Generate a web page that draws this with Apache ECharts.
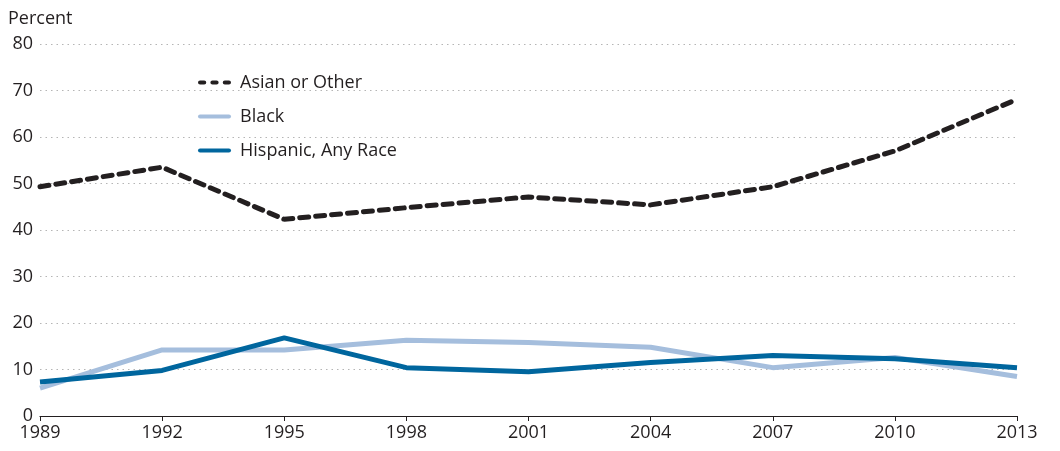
<!DOCTYPE html>
<html><head><meta charset="utf-8">
<script src="https://cdn.jsdelivr.net/npm/echarts@6/dist/echarts.min.js"></script>
<style>html,body{margin:0;padding:0;background:#fff}#c{width:1060px;height:451px}</style>
</head><body><div id="c"></div>
<script>
const years = ['1989','1992','1995','1998','2001','2004','2007','2010','2013'];
const asianOther = [49.3, 53.5, 42.3, 44.8, 47.1, 45.4, 49.3, 57.0, 68.1];
const black = [6.0, 14.2, 14.2, 16.3, 15.8, 14.8, 10.4, 12.6, 8.5];
const hispanic = [7.3, 9.8, 16.8, 10.4, 9.5, 11.5, 13.0, 12.3, 10.4];
const yTicks = {min: 0, max: 80, interval: 10};

const chart = echarts.init(document.getElementById('c'));
const font = 'Open Sans';
const dashIcon = 'path://M2,0 L6,0 A2,2 0 0 1 6,4 L2,4 A2,2 0 0 1 2,0 Z M14,0 L18,0 A2,2 0 0 1 18,4 L14,4 A2,2 0 0 1 14,0 Z M26,0 L30,0 A2,2 0 0 1 30,4 L26,4 A2,2 0 0 1 26,0 Z';
const lineIcon = 'path://M2,0 L30,0 A2,2 0 0 1 30,4 L2,4 A2,2 0 0 1 2,0 Z';
chart.setOption({
  animation: false,
  textStyle: {fontFamily: font},
  grid: {left: 40, right: 43, top: 44, bottom: 35, containLabel: false},
  legend: {
    orient: 'vertical', left: 193, top: 66, itemGap: 11, itemWidth: 33, itemHeight: 5,
    textStyle: {fontSize: 18, color: '#231f20', fontFamily: font, lineHeight: 23, padding: [0, 0, 0, 4]},
    data: [
      {name: 'Asian or Other', icon: dashIcon, itemStyle: {color: '#231f20'}},
      {name: 'Black', icon: lineIcon, itemStyle: {color: '#a5bedd'}},
      {name: 'Hispanic, Any Race', icon: lineIcon, itemStyle: {color: '#00669e'}}
    ]
  },
  xAxis: {
    type: 'category', data: years, boundaryGap: false,
    axisLine: {lineStyle: {color: '#231f20', width: 1.2}},
    axisTick: {show: true, length: 5, lineStyle: {color: '#231f20'}},
    axisLabel: {fontSize: 18, color: '#231f20', margin: 8, fontFamily: font}
  },
  yAxis: {
    type: 'value', min: yTicks.min, max: yTicks.max, interval: yTicks.interval,
    name: 'Percent', nameLocation: 'end', nameGap: 16,
    nameTextStyle: {fontSize: 18, color: '#231f20', align: 'left', padding: [0, 0, 0, -32], fontFamily: font},
    axisLine: {show: false}, axisTick: {show: false},
    axisLabel: {fontSize: 18, color: '#231f20', margin: 7, fontFamily: font},
    splitLine: {lineStyle: {color: '#b5b5b5', type: [1.5, 4], width: 1}}
  },
  series: [
    {name: 'Asian or Other', type: 'line', data: asianOther, symbol: 'none',
     lineStyle: {color: '#231f20', width: 5, type: [9, 7], cap: 'round'}, itemStyle: {color: '#231f20'}},
    {name: 'Black', type: 'line', data: black, symbol: 'none',
     lineStyle: {color: '#a5bedd', width: 5}, itemStyle: {color: '#a5bedd'}},
    {name: 'Hispanic, Any Race', type: 'line', data: hispanic, symbol: 'none',
     lineStyle: {color: '#00669e', width: 5}, itemStyle: {color: '#00669e'}}
  ]
});
</script></body></html>
